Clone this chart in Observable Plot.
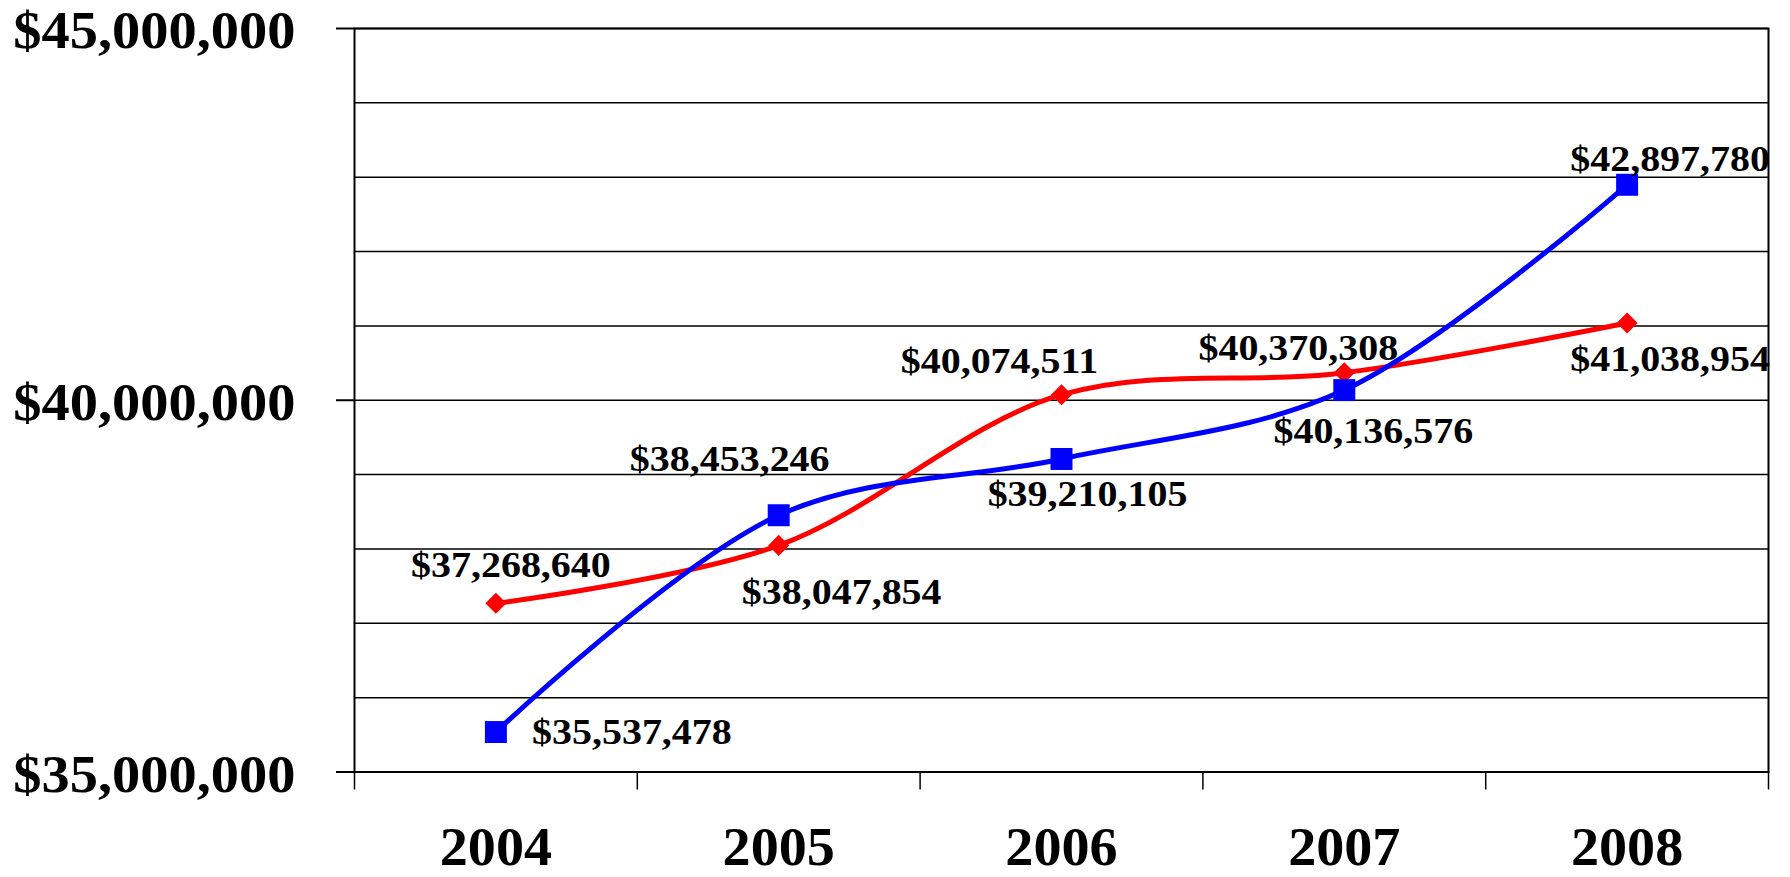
<!DOCTYPE html>
<html>
<head>
<meta charset="utf-8">
<script src="https://cdn.jsdelivr.net/npm/d3@7"></script>
<script src="https://cdn.jsdelivr.net/npm/@observablehq/plot@0.6"></script>
<style>
  html, body { margin: 0; padding: 0; background: #fff; }
  #chart svg { display: block; }
</style>
</head>
<body>
<div id="chart"></div>
<script>
// ---- data ----
const years = [2004, 2005, 2006, 2007, 2008];
const redValues = [37268640, 38047854, 40074511, 40370308, 41038954];
const blueValues = [35537478, 38453246, 39210105, 40136576, 42897780];
const yAxisTicks = [35000000, 40000000, 45000000];
const gridTicks = [35000000, 36000000, 37000000, 38000000, 39000000, 40000000,
                   41000000, 42000000, 43000000, 44000000, 45000000];
const categoryEdges = [2003.5, 2004.5, 2005.5, 2006.5, 2007.5, 2008.5];

// ---- label placement (pixel offsets from each point) ----
const redLabelOffsets = [[15, -38], [63, 47], [-62, -33], [-46, -24], [43, 36]];
const blueLabelOffsets = [[136, 0], [-49, -56], [26, 35], [29, 41], [43, -25]];

const fmt = d3.format("$,");
const red = years.map((year, i) => ({year, value: redValues[i]}));
const blue = years.map((year, i) => ({year, value: blueValues[i]}));

const labelMarks = [
  ...red.map((d, i) => Plot.text([d], {x: "year", y: "value", text: (p) => fmt(p.value),
      dx: redLabelOffsets[i][0], dy: redLabelOffsets[i][1], fontSize: 36, fill: "#000"})),
  ...blue.map((d, i) => Plot.text([d], {x: "year", y: "value", text: (p) => fmt(p.value),
      dx: blueLabelOffsets[i][0], dy: blueLabelOffsets[i][1], fontSize: 36, fill: "#000"}))
];

const chart = Plot.plot({
  width: 1790,
  height: 877,
  marginLeft: 354,
  marginRight: 22,
  marginTop: 28,
  marginBottom: 105.5,
  style: {
    fontFamily: '"Liberation Serif", "Times New Roman", serif',
    fontWeight: "bold",
    background: "#fff",
    color: "#000"
  },
  x: {domain: [2003.5, 2008.5]},
  y: {domain: [35000000, 45000000]},
  marks: [
    Plot.gridY(gridTicks, {stroke: "#000", strokeOpacity: 1, strokeWidth: 1.5}),
    Plot.frame({stroke: "#000", strokeWidth: 2}),
    Plot.axisY(yAxisTicks, {tickSize: 18, tickFormat: () => "", strokeWidth: 2, label: null}),
    Plot.axisY(yAxisTicks, {tickSize: 0, tickPadding: 59, tickFormat: fmt, fontSize: 53,
                            dy: 3, label: null}),
    Plot.axisX(categoryEdges, {tickSize: 18, tickFormat: () => "", strokeWidth: 1.5, label: null}),
    Plot.axisX(years, {tickSize: 0, tickPadding: 55, tickFormat: (d) => String(d),
                       fontSize: 54, label: null}),
    Plot.line(red, {x: "year", y: "value", curve: "catmull-rom", stroke: "#ff0000", strokeWidth: 5}),
    Plot.line(blue, {x: "year", y: "value", curve: "catmull-rom", stroke: "#0000ff", strokeWidth: 5}),
    Plot.dot(red, {x: "year", y: "value", symbol: "diamond2", r: 9.5, fill: "#ff0000", stroke: "none"}),
    Plot.dot(blue, {x: "year", y: "value", symbol: "square", r: 12.4, fill: "#0000ff", stroke: "none"}),
    ...labelMarks
  ]
});

document.getElementById("chart").appendChild(chart);

// horizontal stretch of the glyphs, as in the reference rendering
function stretch(selector, sx) {
  d3.select(chart).selectAll(selector).each(function () {
    const t = this.getAttribute("transform") || "";
    this.setAttribute("transform", (t + ` scale(${sx},1)`).trim());
  });
}
stretch('g[aria-label="text"] text', 1.11);
stretch('g[aria-label="y-axis tick label"] text', 1.065);
stretch('g[aria-label="x-axis tick label"] text', 1.04);
</script>
</body>
</html>
